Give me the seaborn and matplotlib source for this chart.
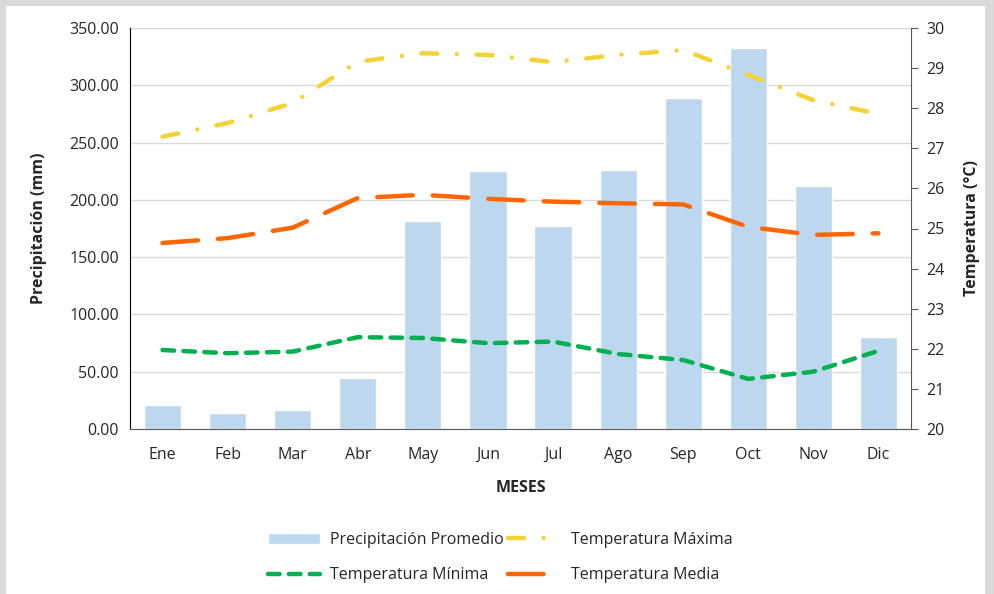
import numpy as np
import pandas as pd
import seaborn as sns
import matplotlib.pyplot as plt
from matplotlib.patches import Rectangle

meses = ['Ene', 'Feb', 'Mar', 'Abr', 'May', 'Jun', 'Jul', 'Ago', 'Sep', 'Oct', 'Nov', 'Dic']
precipitacion = [21.0, 14.0, 16.6, 44.8, 181.5, 225.0, 177.0, 225.8, 289.0, 332.5, 212.0, 80.3]
temp_max = [27.29, 27.63, 28.13, 29.16, 29.37, 29.33, 29.15, 29.33, 29.45, 28.83, 28.20, 27.86]
temp_media = [24.64, 24.76, 25.02, 25.76, 25.84, 25.74, 25.67, 25.63, 25.60, 25.04, 24.84, 24.88]
temp_min = [21.97, 21.89, 21.93, 22.29, 22.27, 22.14, 22.18, 21.87, 21.72, 21.25, 21.43, 21.95]

df = pd.DataFrame({'mes': meses, 'pos': np.arange(len(meses)), 'precip': precipitacion,
                   'tmax': temp_max, 'tmedia': temp_media, 'tmin': temp_min})

sns.set_style('white')
plt.rcParams['font.family'] = ['Open Sans', 'DejaVu Sans']
plt.rcParams['axes.unicode_minus'] = False

fig = plt.figure(figsize=(9.94, 5.94), dpi=100)
fig.patch.set_facecolor('#d9d9d9')
# white chart area inside the grey frame
fig.patches.append(Rectangle((6 / 994, 0), 979 / 994, 588 / 594, transform=fig.transFigure,
                             facecolor='white', edgecolor='none', zorder=-5))

ax = fig.add_axes([130 / 994, 1 - 429 / 594, 781 / 994, 401 / 594])
ax.set_facecolor('white')
sns.barplot(data=df, x='pos', y='precip', color='#bdd7ee', saturation=1, width=0.57,
            ax=ax, zorder=2)
ax.set_ylim(0, 350)
ax.set_yticks(np.arange(0, 351, 50))
ax.set_yticklabels([f'{v:.2f}' for v in np.arange(0, 351, 50)], fontsize=11.5, color='#262626')
ax.set_xticks(df['pos'])
ax.set_xticklabels(meses, fontsize=11.5, color='#262626')
ax.set_xlim(-0.5, 11.5)
ax.yaxis.grid(True, color='#d9d9d9', lw=1, zorder=0)
ax.set_axisbelow(True)
ax.tick_params(axis='y', length=0, pad=8)
ax.tick_params(axis='x', length=0, pad=13)
ax.set_xlabel('MESES', fontsize=11.5, fontweight='bold', labelpad=12)
ax.set_ylabel('Precipitación (mm)', fontsize=11.5, fontweight='bold', labelpad=16)
for s in ['top', 'right']:
    ax.spines[s].set_visible(False)
ax.spines['left'].set_color('black')
ax.spines['bottom'].set_color('#595959')

ax2 = ax.twinx()
sns.lineplot(data=df, x='pos', y='tmax', color='#f2d235', lw=3.2, ax=ax2, legend=False)
sns.lineplot(data=df, x='pos', y='tmin', color='#00b050', lw=3.2, ax=ax2, legend=False)
sns.lineplot(data=df, x='pos', y='tmedia', color='#ff6600', lw=3.2, ax=ax2, legend=False)
l_max, l_min, l_med = ax2.lines[:3]
l_max.set_linestyle((0, (3.6, 4.4, 0.01, 4.4)))
l_min.set_linestyle((0, (2.6, 2.1)))
l_med.set_linestyle((0, (8, 4.5)))
for ln in (l_max, l_min, l_med):
    ln.set_dash_capstyle('round')

ax2.set_ylim(20, 30)
ax2.set_yticks(np.arange(20, 31, 1))
ax2.set_yticklabels([str(v) for v in range(20, 31)], fontsize=11.5, color='#262626')
ax2.tick_params(axis='y', length=5, color='#595959', pad=6)
ax2.set_ylabel('Temperatura (°C)', fontsize=11.5, fontweight='bold', labelpad=14)
ax2.set_xlabel('')
for s in ['top', 'left', 'bottom']:
    ax2.spines[s].set_visible(False)
ax2.spines['right'].set_color('#595959')
ax2.set_xlim(-0.5, 11.5)

bar_handle = ax.containers[0]
fig.legend([bar_handle, l_min, l_max, l_med],
           ['Precipitación Promedio', 'Temperatura Mínima', 'Temperatura Máxima', 'Temperatura Media'],
           loc='center', bbox_to_anchor=(0.503, 0.068 - 4 / 594), ncol=2, frameon=False,
           fontsize=11.5, handlelength=3.3, columnspacing=0.3, handletextpad=0.6,
           labelspacing=1.2, labelcolor='#262626')

fig.savefig('out.png', dpi=100, facecolor=fig.get_facecolor())
